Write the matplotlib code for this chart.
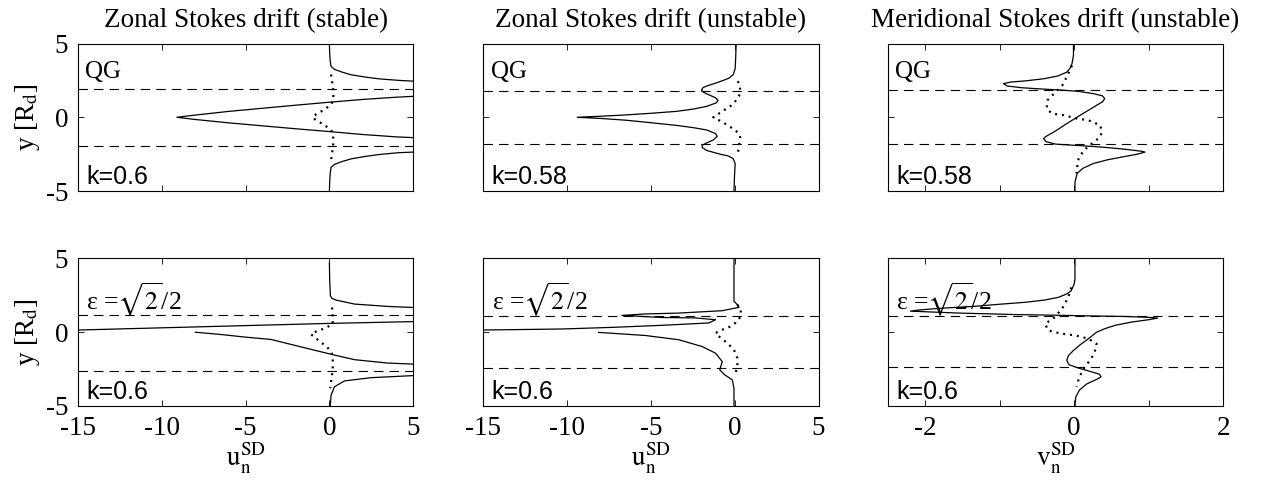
import matplotlib
matplotlib.use("Agg")
import matplotlib.pyplot as plt

plt.rcParams['font.family'] = ['Liberation Serif', 'DejaVu Serif']
plt.rcParams['mathtext.fontset'] = 'stix'
plt.rcParams['axes.unicode_minus'] = False

# ---- data: zonal drift, stable, QG (k=0.6) ----
a_top_x = [0.0, 0.02, 0.05, 0.1, 0.3, 0.76, 1.3, 2.17, 3.0, 4.16, 5.0]
a_top_y = [5.0, 4.3, 3.8, 3.45, 3.25, 3.06, 2.88, 2.72, 2.6, 2.5, 2.45]
a_mid_x = [5.0, 4.0, 2.0, 0.0, -2.0, -4.0, -6.0, -8.0, -9.1, -8.0, -6.0, -4.0, -2.0, 0.0, 2.0, 4.0, 5.0]
a_mid_y = [1.42, 1.36, 1.21, 1.02, 0.82, 0.61, 0.4, 0.15, 0.0, -0.15, -0.38, -0.58, -0.78, -0.97, -1.17, -1.33, -1.38]
a_bot_x = [0.0, 0.02, 0.05, 0.1, 0.3, 0.76, 1.3, 2.17, 3.0, 4.16, 5.0]
a_bot_y = [-5.0, -4.3, -3.8, -3.4, -3.2, -3.0, -2.82, -2.65, -2.52, -2.4, -2.36]
a_dot_x = [0.1, 0.15, 0.22, 0.24, 0.2, 0.1, -0.4, -0.8, -1.0, -0.8, -0.4, 0.1, 0.2, 0.24, 0.22, 0.15, 0.1]
a_dot_y = [2.9, 2.5, 2.0, 1.5, 1.1, 0.85, 0.45, 0.2, 0.0, -0.2, -0.45, -0.85, -1.1, -1.5, -2.0, -2.5, -2.9]
a_crit = [1.95, -1.95]

# ---- zonal drift, unstable, QG (k=0.58) ----
b_x = [0.08, 0.05, 0.02, -0.09, -0.35, -0.69, -1.08, -1.6, -1.89, -1.99, -1.85, -1.5, -1.15, -1.0, -1.1,
       -1.68, -2.5, -3.49, -5.0, -6.49, -8.0, -9.4, -8.0, -6.49, -5.0, -3.49, -2.5, -1.68, -1.15, -1.05,
       -1.3, -1.7, -1.95, -1.95, -1.68, -1.2, -0.88, -0.4, -0.1, 0.02, -0.02, -0.05]
b_y = [5.0, 4.0, 3.3, 2.9, 2.65, 2.5, 2.34, 2.15, 2.02, 1.85, 1.68, 1.5, 1.32, 1.15, 0.98,
       0.74, 0.55, 0.4, 0.27, 0.16, 0.07, 0.0, -0.08, -0.2, -0.37, -0.55, -0.7, -0.86, -1.1, -1.3,
       -1.55, -1.75, -1.9, -2.05, -2.25, -2.4, -2.5, -2.62, -2.8, -3.14, -4.0, -5.0]
b_dot_x = [0.18, 0.3, 0.32, 0.25, -0.09, -0.69, -1.29, -0.69, -0.09, 0.25, 0.32, 0.28, 0.22, 0.16]
b_dot_y = [2.45, 2.1, 1.78, 1.44, 0.89, 0.44, 0.0, -0.35, -0.79, -1.1, -1.36, -1.7, -2.13, -2.58]
b_crit = [1.8, -1.82]

# ---- meridional drift, unstable, QG (k=0.58) ----
c_x = [-0.01, -0.01, -0.03, -0.06, -0.1, -0.22, -0.41, -0.65, -0.85, -0.95, -0.9, -0.7, -0.45, -0.19, 0.05,
       0.26, 0.38, 0.41, 0.38, 0.3, 0.2, 0.08, -0.1, -0.27, -0.38, -0.41, -0.38, -0.25, 0.0, 0.26,
       0.5, 0.7, 0.9, 0.95, 0.85, 0.7, 0.45, 0.26, 0.12, 0.04, 0.01, 0.01]
c_y = [5.0, 4.2, 3.63, 3.3, 3.06, 2.8, 2.61, 2.47, 2.39, 2.28, 2.12, 2.0, 1.92, 1.85, 1.76,
       1.6, 1.45, 1.26, 1.05, 0.81, 0.5, 0.14, -0.43, -0.99, -1.3, -1.44, -1.65, -1.82, -1.9, -1.98,
       -2.08, -2.18, -2.3, -2.36, -2.5, -2.64, -2.88, -3.13, -3.45, -3.8, -4.4, -5.0]
c_dot_x = [-0.03, -0.09, -0.16, -0.25, -0.36, -0.37, -0.3, -0.14, 0.04, 0.19, 0.35, 0.37, 0.35, 0.24, 0.13, 0.06, 0.04, 0.03]
c_dot_y = [3.51, 2.84, 2.16, 1.71, 1.15, 0.59, 0.25, 0.14, -0.09, -0.2, -0.54, -0.99, -1.33, -1.78, -2.23, -2.79, -3.36, -3.8]
c_crit = [1.85, -1.8]

# ---- zonal drift, stable, eps = sqrt(2)/2 (k=0.6) ----
d_top_x = [0.0, 0.02, 0.06, 0.15, 0.4, 1.5, 3.49, 5.0]
d_top_y = [4.7, 3.5, 2.48, 2.3, 2.18, 1.91, 1.75, 1.68]
d_up_x = [-15.0, -10.0, -5.0, 0.0, 5.0]
d_up_y = [0.15, 0.3, 0.45, 0.6, 0.72]
d_lo_x = [-8.0, -6.5, -4.93, -3.48, -1.6, 0.2, 1.5, 3.49, 5.0]
d_lo_y = [0.0, -0.15, -0.34, -0.49, -1.02, -1.52, -1.86, -2.09, -2.16]
d_bot_x = [5.0, 2.49, 0.9, 0.3, 0.1, 0.05]
d_bot_y = [-2.94, -3.08, -3.3, -3.7, -4.27, -5.0]
d_dot_x = [0.16, 0.2, 0.2, 0.2, -0.3, -0.6, -0.99, -1.1, -0.59, -0.2, 0.1, 0.2, 0.2, 0.1, 0.05]
d_dot_y = [1.68, 1.27, 0.77, 0.54, 0.26, 0.12, -0.03, -0.14, -0.6, -0.95, -1.29, -1.64, -2.55, -3.35, -3.8]
d_crit = [1.2, -2.6]

# ---- zonal drift, unstable, eps = sqrt(2)/2 (k=0.6) ----
e_up_x = [-0.05, -0.05, 0.15, 0.25, -0.75, -3.34, -5.34, -6.74, -4.34, -2.35, -1.15, -1.55, -4.34, -7.34, -10.33, -15.0]
e_up_y = [5.0, 2.1, 1.87, 1.69, 1.46, 1.3, 1.24, 1.14, 1.0, 0.97, 0.85, 0.63, 0.47, 0.33, 0.22, 0.15]
e_lo_x = [-8.13, -5.34, -3.34, -1.95, -1.15, -0.75, -0.9, -0.6, -0.15, -0.05, -0.05]
e_lo_y = [-0.01, -0.22, -0.51, -0.97, -1.42, -1.99, -2.55, -2.89, -3.23, -3.8, -5.0]
e_dot_x = [0.15, 0.35, 0.35, 0.15, -0.25, -0.75, -1.15, -0.85, -0.45, -0.05, 0.15, 0.15, 0.05]
e_dot_y = [1.87, 1.53, 1.08, 0.73, 0.39, 0.17, -0.05, -0.39, -0.73, -1.19, -1.76, -2.21, -2.78]
e_crit = [1.12, -2.45]

# ---- meridional drift, unstable, eps = sqrt(2)/2 (k=0.6) ----
f_x = [0.01, 0.01, 0.0, -0.04, -0.1, -0.21, -0.4, -0.66, -1.0, -1.33, -1.65, -1.91, -2.1, -2.2, -1.55,
       -0.8, -0.21, 0.3, 0.68, 1.0, 1.12, 1.0, 0.77, 0.55, 0.41, 0.3, 0.19, 0.08, -0.01, -0.08,
       -0.1, -0.07, 0.04, 0.23, 0.34, 0.36, 0.3, 0.17, 0.07, 0.02, 0.01]
f_y = [5.0, 3.6, 3.27, 2.82, 2.6, 2.37, 2.18, 2.03, 1.9, 1.76, 1.67, 1.58, 1.5, 1.43, 1.3,
       1.2, 1.15, 1.1, 1.07, 1.01, 0.96, 0.85, 0.69, 0.47, 0.24, 0.0, -0.44, -0.85, -1.23, -1.6,
       -1.9, -2.2, -2.4, -2.68, -2.85, -3.02, -3.2, -3.5, -3.92, -4.4, -5.0]
f_dot_x = [-0.04, -0.08, -0.15, -0.26, -0.39, -0.35, -0.17, 0.01, 0.19, 0.3, 0.28, 0.23, 0.14, 0.07, 0.03]
f_dot_y = [3.04, 2.37, 1.7, 1.02, 0.57, 0.12, -0.1, -0.21, -0.44, -0.78, -1.23, -1.79, -2.35, -3.02, -3.69]
f_crit = [1.13, -2.35]

titles = ['Zonal Stokes drift (stable)', 'Zonal Stokes drift (unstable)', 'Meridional Stokes drift (unstable)']
k_labels = [['k=0.6', 'k=0.58', 'k=0.58'], ['k=0.6', 'k=0.6', 'k=0.6']]
zonal_ticks = [-15, -10, -5, 0, 5]
merid_ticks = [-2, -1, 0, 1, 2]
merid_ticklabels = ['-2', '', '0', '', '2']

fig = plt.figure(figsize=(12.67, 4.82), dpi=100)
lefts = [0.0616, 0.3816, 0.7009]
bottoms = [0.6037, 0.1577]
w, h = 0.2645, 0.306

solid = dict(color='k', lw=0.9)
dotted = dict(color='k', lw=1.6, dashes=(0.9, 2.2))
dashed = dict(color='k', lw=0.8, dashes=(8.5, 5.5))

axs = [[fig.add_axes([lefts[c], bottoms[r], w, h]) for c in range(3)] for r in range(2)]

def setup(ax, row, col):
    ax.set_ylim(-5, 5)
    ax.set_yticks([-5, 0, 5])
    if col == 2:
        ax.set_xlim(-2.5, 2)
        ax.set_xticks(merid_ticks)
        ax.set_xticklabels(merid_ticklabels)
    else:
        ax.set_xlim(-15, 5)
        ax.set_xticks(zonal_ticks)
    ax.tick_params(direction='in', length=4, width=0.6, top=True, right=True,
                   labelsize=19.5, pad=7)
    if row == 0:
        ax.tick_params(labelbottom=False)
    if col != 0:
        ax.tick_params(labelleft=False)
    else:
        ax.set_ylabel(r'y [R$_\mathrm{d}$]', fontsize=19.5, labelpad=3)
    for s in ax.spines.values():
        s.set_linewidth(0.8)
    ax.text(0.025, 0.095, k_labels[row][col], transform=ax.transAxes, fontsize=18,
            family=['Liberation Sans', 'DejaVu Sans'], va='center', ha='left')
    if row == 0:
        ax.text(0.022, 0.81, 'QG', transform=ax.transAxes, fontsize=18, va='center', ha='left')
    else:
        ax.text(0.025, 0.72, r'ε =$\sqrt{2}$/2', transform=ax.transAxes,
                fontsize=18.5, va='center', ha='left')

# top row
ax = axs[0][0]
for yc in a_crit:
    ax.axhline(yc, **dashed)
ax.plot(a_top_x, a_top_y, **solid)
ax.plot(a_mid_x, a_mid_y, **solid)
ax.plot(a_bot_x, a_bot_y, **solid)
ax.plot(a_dot_x, a_dot_y, **dotted)

ax = axs[0][1]
for yc in b_crit:
    ax.axhline(yc, **dashed)
ax.plot(b_x, b_y, **solid)
ax.plot(b_dot_x, b_dot_y, **dotted)

ax = axs[0][2]
for yc in c_crit:
    ax.axhline(yc, **dashed)
ax.plot(c_x, c_y, **solid)
ax.plot(c_dot_x, c_dot_y, **dotted)

# bottom row
ax = axs[1][0]
for yc in d_crit:
    ax.axhline(yc, **dashed)
ax.plot(d_top_x, d_top_y, **solid)
ax.plot(d_up_x, d_up_y, **solid)
ax.plot(d_lo_x, d_lo_y, **solid)
ax.plot(d_bot_x, d_bot_y, **solid)
ax.plot(d_dot_x, d_dot_y, **dotted)

ax = axs[1][1]
for yc in e_crit:
    ax.axhline(yc, **dashed)
ax.plot(e_up_x, e_up_y, **solid)
ax.plot(e_lo_x, e_lo_y, **solid)
ax.plot(e_dot_x, e_dot_y, **dotted)

ax = axs[1][2]
for yc in f_crit:
    ax.axhline(yc, **dashed)
ax.plot(f_x, f_y, **solid)
ax.plot(f_dot_x, f_dot_y, **dotted)

for r in range(2):
    for c in range(3):
        setup(axs[r][c], r, c)

for c in range(3):
    axs[0][c].set_title(titles[c], fontsize=19.5, pad=12)

axs[1][0].set_xlabel(r'$\mathrm{u_n^{SD}}$', fontsize=19.5, labelpad=0)
axs[1][1].set_xlabel(r'$\mathrm{u_n^{SD}}$', fontsize=19.5, labelpad=0)
axs[1][2].set_xlabel(r'$\mathrm{v_n^{SD}}$', fontsize=19.5, labelpad=0)

fig.savefig('out.png', dpi=100)
